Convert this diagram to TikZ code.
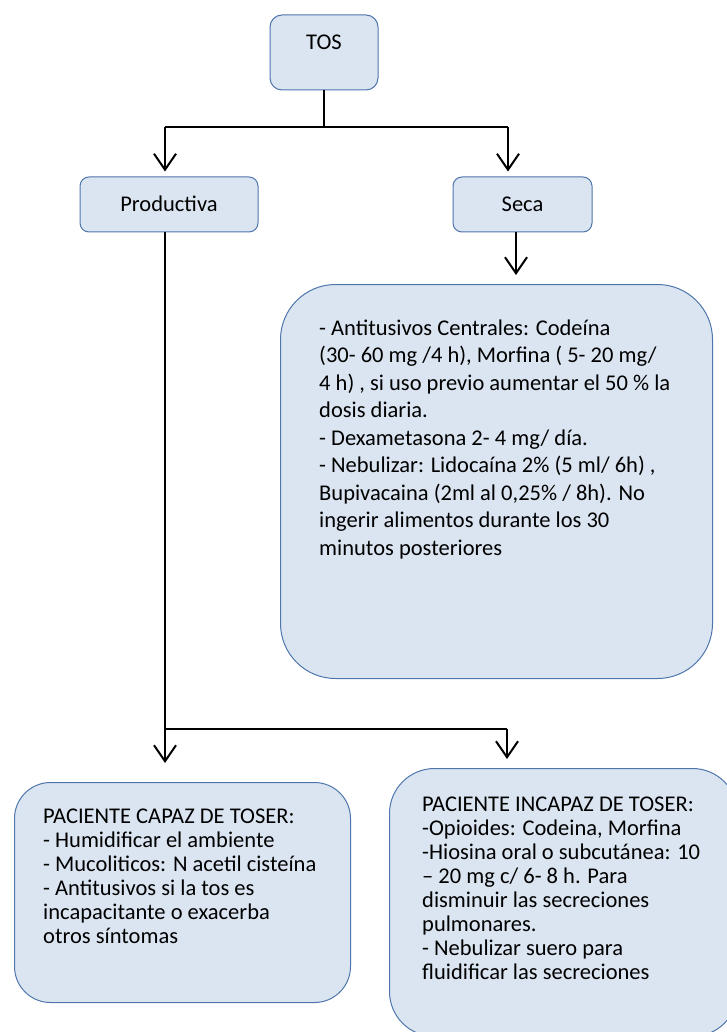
\documentclass[tikz,border=0pt]{standalone}
\usepackage{fontspec}
\setmainfont{Carlito}
\usetikzlibrary{arrows.meta}
\definecolor{boxfill}{HTML}{DBE5F1}
\definecolor{boxdraw}{HTML}{4F76AC}
\begin{document}
\begin{tikzpicture}[x=1pt,y=-1pt,
  box/.style={draw=boxdraw,fill=boxfill,line width=1pt,inner sep=0pt},
  lbl/.style={inner sep=0pt,font=\fontsize{22.5}{27.5}\selectfont},
  txt/.style={inner sep=0pt,anchor=north west,align=left,font=\fontsize{22.5}{27.5}\selectfont},
  txts/.style={txt,font=\fontsize{22.5}{24}\selectfont},
  conn/.style={line width=2pt,black},
  arr/.style={conn,-{Straight Barb[length=16pt,width=22pt,line width=2pt]}}]
\clip (0,0) rectangle (727,1032);
% boxes
\node[box,lbl,rounded corners=12pt,minimum width=108pt,text height=35pt,text depth=40pt,anchor=base] (tos) at (324,50) {TOS};
\node[box,lbl,rounded corners=9pt,minimum width=178pt,text height=35pt,text depth=20pt,anchor=base] (prod) at (169,212) {Productiva};
\node[box,lbl,rounded corners=9pt,minimum width=139pt,text height=35pt,text depth=20pt,anchor=base] (seca) at (522.5,212) {Seca};
\node[box,rounded corners=55pt,minimum width=432pt,minimum height=394pt,anchor=north west] (big) at (280,284) {};
\node[box,rounded corners=36pt,minimum width=336pt,minimum height=220pt,anchor=north west] (capaz) at (14,782) {};
\node[box,rounded corners=45pt,minimum width=348pt,minimum height=268pt,anchor=north west] (incapaz) at (389,768) {};
% texts
\node[txt] (bigtxt) at (319,315) {\rule{0pt}{20pt}- Antitusivos Centrales: Codeína\\
(30- 60 mg /4 h), Morfina ( 5- 20 mg/\\
4 h) , si uso previo aumentar el 50 \% la\\
dosis diaria.\\
- Dexametasona 2- 4 mg/ día.\\
- Nebulizar: Lidocaína 2\% (5 ml/ 6h) ,\\
Bupivacaina (2ml al 0,25\% / 8h). No\\
ingerir alimentos durante los 30\\
minutos posteriores};
\node[txts] (capaztxt) at (43,803.5) {\rule{0pt}{20pt}PACIENTE CAPAZ DE TOSER:\\
- Humidificar el ambiente\\
- Mucoliticos: N acetil cisteína\\
- Antitusivos si la tos es\\
incapacitante o exacerba\\
otros síntomas};
\node[txts] (incapaztxt) at (422,791) {\rule{0pt}{20pt}PACIENTE INCAPAZ DE TOSER:\\
-Opioides: Codeina, Morfina\\
-Hiosina oral o subcutánea: 10\\
– 20 mg c/ 6- 8 h. Para\\
disminuir las secreciones\\
pulmonares.\\
- Nebulizar suero para\\
fluidificar las secreciones};
% connector points
\coordinate (hL) at (165,127);
\coordinate (hR) at (508,127);
\coordinate (sx) at (516,232);
\coordinate (bL) at (165,729);
\coordinate (bR) at (507,729);
% connectors
\draw[conn] (tos.south) -- (tos.south |- hL);
\draw[conn] (hL) -- (hR);
\draw[arr,shorten >=5pt] (hL) -- (hL |- prod.north);
\draw[arr,shorten >=5pt] (hR) -- (hR |- seca.north);
\draw[arr,shorten >=9pt] (sx) -- (sx |- big.north);
\draw[conn] (prod.south -| hL) -- (bL);
\draw[conn] (bL) -- (bR);
\draw[arr,shorten >=19pt] (bL) -- (bL |- capaz.north);
\draw[arr,shorten >=9pt] (bR) -- (bR |- incapaz.north);
\end{tikzpicture}
\end{document}
